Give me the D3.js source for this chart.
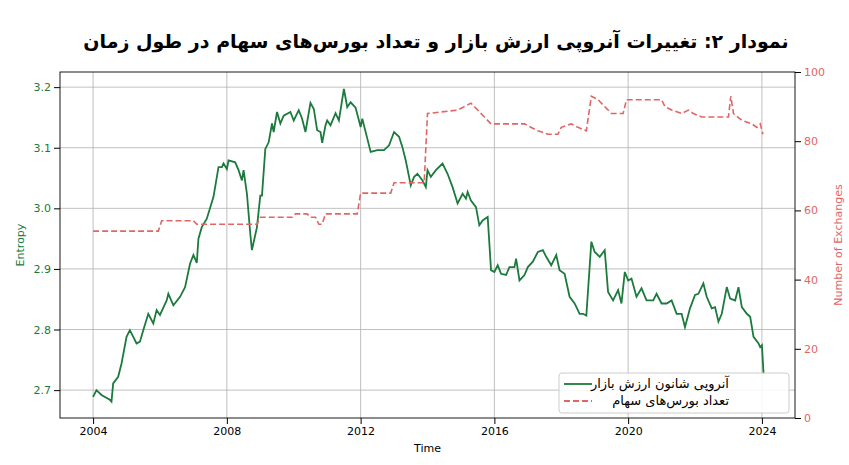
<!DOCTYPE html>
<html lang="fa">
<head>
<meta charset="UTF-8">
<script src="https://d3js.org/d3.v7.min.js"></script>
<style>
  body { margin: 0; background: #fff; }
  text { font-family: "DejaVu Sans", sans-serif; }
</style>
</head>
<body>
<svg width="849" height="465"></svg>
<script>
// entropy series (time in decimal years)
const entTime = [2004.0,2004.1,2004.25,2004.5,2004.55,2004.6,2004.75,2004.85,2005.0,2005.1,2005.3,2005.4,2005.5,2005.65,2005.8,2005.9,2006.0,2006.2,2006.25,2006.4,2006.6,2006.75,2006.9,2007.0,2007.1,2007.15,2007.25,2007.4,2007.6,2007.75,2007.85,2007.9,2008.0,2008.05,2008.25,2008.35,2008.45,2008.5,2008.6,2008.7,2008.75,2008.9,2009.0,2009.05,2009.15,2009.25,2009.35,2009.4,2009.5,2009.6,2009.7,2009.9,2010.0,2010.15,2010.25,2010.35,2010.5,2010.6,2010.7,2010.8,2010.85,2010.95,2011.0,2011.1,2011.25,2011.35,2011.5,2011.6,2011.7,2011.85,2011.95,2012.0,2012.05,2012.2,2012.3,2012.5,2012.7,2012.85,2013.0,2013.15,2013.25,2013.35,2013.5,2013.6,2013.7,2013.85,2013.95,2014.0,
  2014.1,2014.25,2014.45,2014.6,2014.75,2014.9,2015.05,2015.15,2015.2,2015.3,2015.45,2015.55,2015.65,2015.8,2015.9,2016.0,2016.1,2016.2,2016.35,2016.45,2016.6,2016.65,2016.75,2016.9,2017.0,2017.15,2017.3,2017.45,2017.55,2017.7,2017.85,2017.95,2018.1,2018.25,2018.4,2018.55,2018.65,2018.75,2018.9,2019.0,2019.15,2019.3,2019.4,2019.55,2019.7,2019.8,2019.9,2020.0,2020.1,2020.25,2020.4,2020.55,2020.75,2020.85,2021.0,2021.15,2021.3,2021.45,2021.6,2021.7,2021.85,2022.0,2022.1,2022.25,2022.35,2022.5,2022.6,2022.7,2022.8,2022.95,2023.05,2023.2,2023.3,2023.4,2023.55,2023.65,2023.75,2023.9,2023.95,2024.0,2024.05];
const entValue = [2.689,2.700,2.692,2.684,2.681,2.711,2.722,2.744,2.788,2.799,2.777,2.780,2.799,2.826,2.810,2.832,2.824,2.848,2.859,2.840,2.854,2.870,2.909,2.923,2.910,2.950,2.969,2.983,3.019,3.068,3.068,3.074,3.065,3.079,3.076,3.063,3.046,3.063,3.024,2.958,2.931,2.969,3.021,3.021,3.098,3.109,3.140,3.126,3.159,3.140,3.153,3.159,3.145,3.162,3.148,3.126,3.174,3.164,3.129,3.126,3.108,3.137,3.145,3.137,3.157,3.145,3.197,3.167,3.175,3.166,3.145,3.134,3.148,3.115,3.093,3.096,3.096,3.104,3.126,3.118,3.101,3.079,3.038,3.052,3.057,3.046,3.035,3.063,
  3.052,3.063,3.074,3.057,3.035,3.008,3.024,3.016,3.027,3.013,3.002,2.972,2.980,2.986,2.898,2.895,2.906,2.892,2.890,2.903,2.903,2.917,2.881,2.890,2.903,2.912,2.928,2.931,2.920,2.906,2.923,2.898,2.892,2.854,2.843,2.826,2.826,2.823,2.945,2.928,2.920,2.931,2.862,2.848,2.865,2.843,2.895,2.881,2.884,2.854,2.868,2.848,2.848,2.859,2.843,2.843,2.848,2.826,2.826,2.804,2.835,2.857,2.859,2.876,2.854,2.835,2.837,2.813,2.826,2.870,2.851,2.848,2.870,2.837,2.826,2.821,2.788,2.777,2.771,2.774,2.727];

// number of exchanges
const exchTime = [2004.0,2005.95,2006.05,2007.0,2007.1,2008.9,2009.0,2009.95,2010.05,2010.4,2010.5,2010.65,2010.75,2010.85,2010.95,2011.9,2012.0,2012.9,2013.0,2013.9,2014.0,2014.9,2015.1,2015.3,2015.5,2015.7,2015.9,2016.9,2017.3,2017.6,2017.9,2018.0,2018.3,2018.5,2018.75,2018.9,2019.1,2019.3,2019.5,2019.85,2019.95,2021.0,2021.1,2021.3,2021.6,2021.8,2021.95,2022.2,2023.0,2023.07,2023.15,2023.4,2023.7,2023.85,2023.95,2024.03];
const exchCount = [54,54,57,57,56,56,58,58,59,59,58,58,56,56,59,59,65,65,68,68,88,89,90,91,89,87,85,85,83,82,82,84,85,84,83,93,92,90,88,88,92,92,90,89,88,89,88,87,87,93,88,86,85,84,85,82];

const xTicks = [2004,2008,2012,2016,2020,2024];
const yTicks = [2.7,2.8,2.9,3.0,3.1,3.2];
const y2Ticks = [0,20,40,60,80,100];

const titleText = "نمودار ۲: تغییرات آنروپی ارزش بازار و تعداد بورس‌های سهام در طول زمان";
const legendLabels = ["آنروپی شانون ارزش بازار", "تعداد بورس‌های سهام"];

const green = "#1b7a3c", red = "#e06666";
const L = 60, R = 795, T = 72, B = 418;
const svg = d3.select("svg");

const x = d3.scaleLinear().domain([2003.01, 2024.99]).range([L, R]);
const y = d3.scaleLinear().domain([2.654, 3.225]).range([B, T]);
const y2 = d3.scaleLinear().domain([0, 100]).range([B, T]);

// grid
svg.append("g").selectAll("line").data(xTicks).join("line")
  .attr("x1", d => x(d)).attr("x2", d => x(d)).attr("y1", T).attr("y2", B)
  .attr("stroke", "#b0b0b0").attr("stroke-width", 0.8);
svg.append("g").selectAll("line").data(yTicks).join("line")
  .attr("x1", L).attr("x2", R).attr("y1", d => y(d)).attr("y2", d => y(d))
  .attr("stroke", "#b0b0b0").attr("stroke-width", 0.8);

// lines
svg.append("path").datum(entTime.map((t, i) => [t, entValue[i]]))
  .attr("fill", "none").attr("stroke", green).attr("stroke-width", 1.8)
  .attr("d", d3.line().x(d => x(d[0])).y(d => y(d[1])));
svg.append("path").datum(exchTime.map((t, i) => [t, exchCount[i]]))
  .attr("fill", "none").attr("stroke", red).attr("stroke-width", 1.6)
  .attr("stroke-dasharray", "6,3")
  .attr("d", d3.line().x(d => x(d[0])).y(d => y2(d[1])));

// frame
svg.append("rect").attr("x", L).attr("y", T).attr("width", R - L).attr("height", B - T)
  .attr("fill", "none").attr("stroke", "#000").attr("stroke-width", 0.9);

// axes
const ax = svg.append("g").attr("transform", `translate(0,${B})`)
  .call(d3.axisBottom(x).tickValues(xTicks).tickFormat(d3.format("d")).tickSizeOuter(0));
const ay = svg.append("g").attr("transform", `translate(${L},0)`)
  .call(d3.axisLeft(y).tickValues(yTicks).tickFormat(d3.format(".1f")).tickSizeOuter(0));
const ay2 = svg.append("g").attr("transform", `translate(${R},0)`)
  .call(d3.axisRight(y2).tickValues(y2Ticks).tickSizeOuter(0));
[ax, ay, ay2].forEach(g => { g.select(".domain").remove(); g.selectAll("text").attr("font-size", 11); });
ay.selectAll("text").attr("fill", green);
ay2.selectAll("text").attr("fill", red);

// labels
svg.append("text").attr("x", (L + R) / 2).attr("y", 452).attr("text-anchor", "middle")
  .attr("font-size", 11).text("Time");
svg.append("text").attr("transform", `translate(24,${(T + B) / 2}) rotate(-90)`)
  .attr("text-anchor", "middle").attr("font-size", 11).attr("fill", green).text("Entropy");
svg.append("text").attr("transform", `translate(842,${(T + B) / 2}) rotate(-90)`)
  .attr("text-anchor", "middle").attr("font-size", 11).attr("fill", red).text("Number of Exchanges");

svg.append("text").attr("x", 436).attr("y", 48).attr("text-anchor", "middle")
  .attr("font-family", "Noto Sans, DejaVu Sans").attr("font-weight", "bold").attr("font-size", 19)
  .text(titleText);

// legend
const lg = svg.append("g").attr("transform", "translate(559,373)");
lg.append("rect").attr("width", 230).attr("height", 40).attr("rx", 3)
  .attr("fill", "#fff").attr("fill-opacity", 0.85).attr("stroke", "#ccc");
[[green, null], [red, "6,3"]].forEach(([c, dash], i) => {
  lg.append("line").attr("x1", 5).attr("x2", 33).attr("y1", 11 + i * 17).attr("y2", 11 + i * 17)
    .attr("stroke", c).attr("stroke-width", 1.8).attr("stroke-dasharray", dash);
  lg.append("text").attr("x", 170).attr("y", 15 + i * 17).attr("text-anchor", "end")
    .attr("font-family", "Noto Sans, DejaVu Sans").attr("font-size", 13).text(legendLabels[i]);
});
</script>
</body>
</html>
